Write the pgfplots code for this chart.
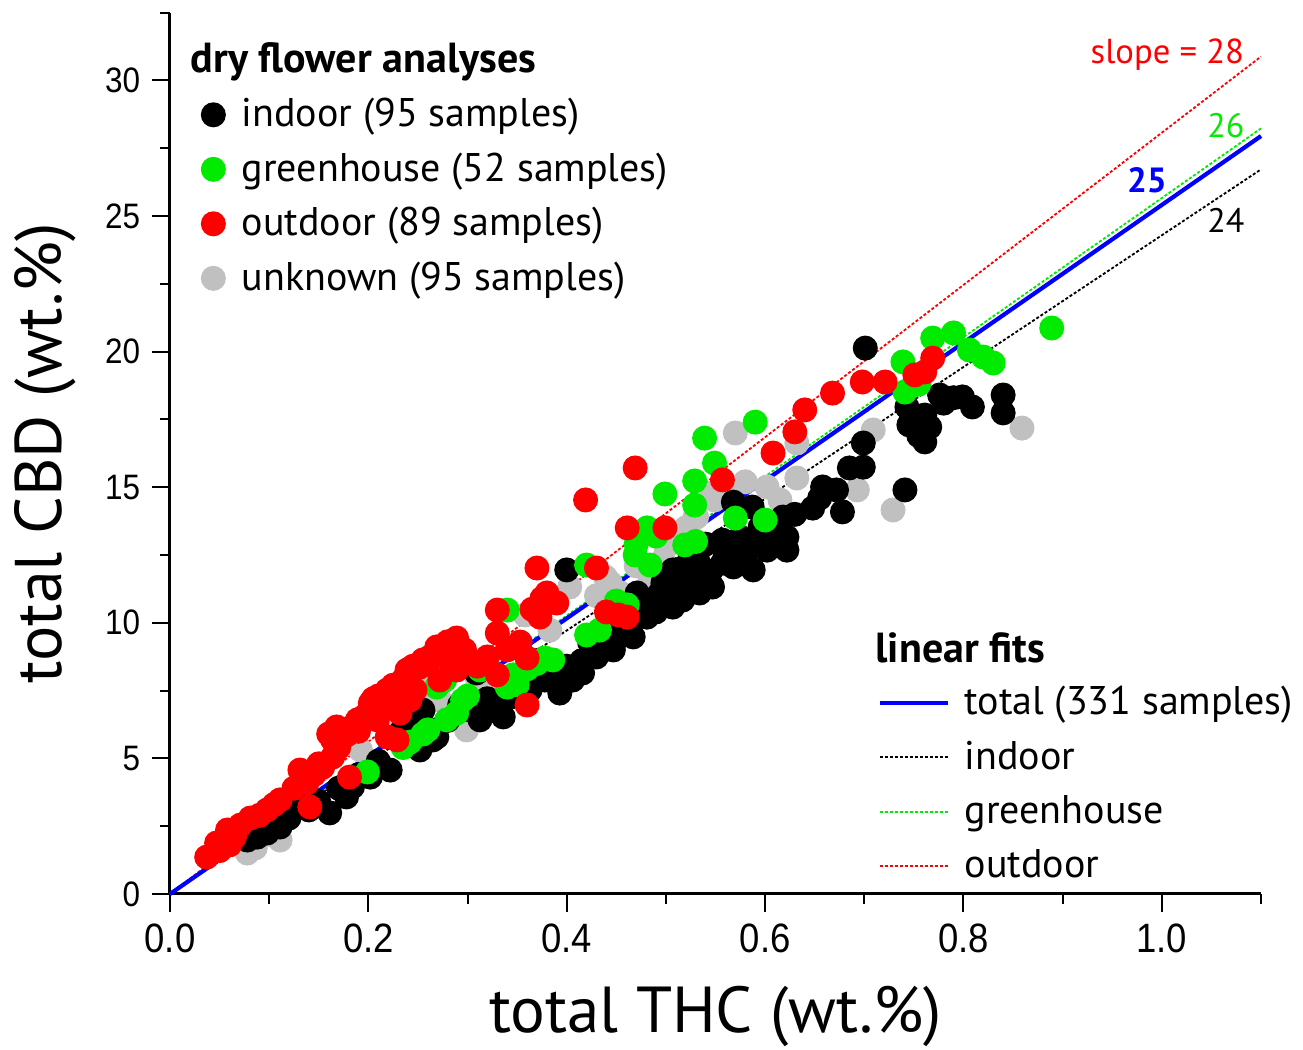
\documentclass[border=0pt]{standalone}
\usepackage{fontspec}
\setmainfont{PT Sans}
\newfontfamily\tickfont[FakeStretch=0.89]{Liberation Sans}
\usepackage{pgfplots}
\pgfplotsset{compat=1.18}
\definecolor{cgreen}{RGB}{0,235,0}
\definecolor{cgray}{RGB}{192,192,192}

\begin{document}
\begin{tikzpicture}
\begin{axis}[
    name=main,
    width=327.3pt, height=264.4pt, scale only axis,
    xmin=0, xmax=1.1, ymin=0, ymax=32.5,
    axis x line=bottom, axis y line=left,
    axis line style={-, line width=0.9pt},
    tick align=outside,
    tick style={line width=0.6pt, black},
    major tick length=5.4pt, minor tick length=3pt,
    xtick={0,0.2,0.4,0.6,0.8,1.0},
    minor xtick={0.1,0.3,0.5,0.7,0.9,1.1},
    ytick={0,5,10,15,20,25,30},
    minor ytick={2.5,7.5,12.5,17.5,22.5,27.5,32.5},
    /pgf/number format/assume math mode=true,
    xticklabel style={font=\tickfont\fontsize{12.3}{13}\selectfont,
        /pgf/number format/.cd, fixed, fixed zerofill, precision=1},
    yticklabel style={font=\tickfont\fontsize{10.6}{12}\selectfont},
    xlabel={total THC (wt.\%)},
    ylabel={total CBD (wt.\%)},
    xlabel style={at={(rel axis cs:0.5,-0.1566)}, anchor=base, font=\fontsize{19.5}{20}\selectfont},
    ylabel style={at={(rel axis cs:-0.099,0.5)}, anchor=base, font=\fontsize{19.8}{20}\selectfont},
    legend style={at={(rel axis cs:0.0289,0.915)}, anchor=north west,
        draw=none, fill=none, inner sep=0pt, outer sep=0pt,
        column sep=5.0pt, row sep=0pt,
        font=\fontsize{12}{13}\selectfont,
        nodes={inner sep=0pt, minimum height=16.35pt}},
    legend cell align=left,
    clip=false,
]
% fit lines behind the points
\addplot[black, line width=0.55pt, dash pattern=on 0.9pt off 0.6pt, forget plot] coordinates {(0,0) (1.1,26.72)};
\addplot[cgreen, line width=0.55pt, dash pattern=on 0.9pt off 0.6pt, forget plot] coordinates {(0,0) (1.1,28.23)};
\addplot[red, line width=0.55pt, dash pattern=on 0.9pt off 0.6pt, forget plot] coordinates {(0,0) (1.1,30.88)};

% unknown
\addplot[only marks, mark=*, color=cgray, mark size=3.55pt, forget plot] coordinates {
(0.859,17.18) (0.729,14.16) (0.709,17.11) (0.570,17.00) (0.632,16.63) (0.632,15.34)
(0.602,15.01) (0.549,14.53) (0.529,13.86) (0.497,12.32) (0.693,14.90) (0.547,14.79)
(0.531,13.90) (0.439,11.69) (0.403,11.32) (0.444,11.47) (0.454,11.10) (0.262,7.63)
(0.249,7.26) (0.299,6.05) (0.225,6.53) (0.078,1.51) (0.111,1.99) (0.229,6.31)
(0.333,7.52) (0.383,9.73) (0.358,10.29) (0.272,7.15) (0.192,5.31) (0.151,4.57)
(0.086,1.70) (0.484,11.58) (0.509,13.05) (0.615,14.53)
(0.500,12.80) (0.470,12.10) (0.520,13.50) (0.560,14.90) (0.580,15.20) (0.430,11.00)
(0.270,7.40) (0.310,7.90) (0.100,2.20)
};
% indoor
\addplot[only marks, mark=*, color=black, mark size=3.55pt, forget plot] coordinates {
(0.701,20.13) (0.743,17.96) (0.761,17.66) (0.766,17.22) (0.761,16.67) (0.776,18.40)
(0.799,18.33) (0.809,17.96) (0.840,18.40) (0.840,17.74) (0.741,14.90) (0.699,16.63)
(0.699,15.74) (0.685,15.71) (0.658,15.01) (0.672,14.90) (0.648,14.23) (0.678,14.09)
(0.618,13.90) (0.622,13.16) (0.622,12.68) (0.608,13.16) (0.595,13.53) (0.587,14.27)
(0.568,14.45) (0.557,13.05) (0.575,13.16) (0.582,12.68) (0.568,12.06) (0.557,12.20)
(0.531,12.57) (0.517,12.02) (0.507,11.95) (0.497,11.47) (0.532,12.32) (0.547,11.32)
(0.534,11.10) (0.517,10.84) (0.494,11.10) (0.481,10.84) (0.507,10.58) (0.588,11.95)
(0.602,12.68) (0.481,10.21) (0.471,11.10) (0.467,9.48) (0.447,9.00) (0.430,8.74)
(0.416,8.15) (0.406,7.89) (0.393,7.63) (0.393,7.41) (0.400,11.95) (0.309,8.15)
(0.330,6.90) (0.336,6.53) (0.343,7.26) (0.363,7.52) (0.378,7.89) (0.255,6.78)
(0.265,5.68) (0.232,5.94) (0.249,6.16) (0.269,5.79) (0.252,5.31) (0.222,4.57)
(0.202,4.31) (0.184,3.95) (0.178,3.58) (0.161,2.99) (0.124,3.58) (0.111,2.47)
(0.088,2.10) (0.078,1.99) (0.098,2.25) (0.292,6.97) (0.3125,6.42) (0.444,9.66)
(0.423,9.29) (0.454,10.10) (0.373,8.63) (0.358,8.08) (0.534,11.76) (0.489,10.84)
(0.460,9.90) (0.490,10.40) (0.500,11.20) (0.520,11.40) (0.545,11.90) (0.560,12.50)
(0.575,12.40) (0.590,12.90) (0.600,13.30) (0.612,13.60) (0.540,12.90) (0.450,9.40)
(0.430,9.00) (0.415,8.60) (0.400,8.40) (0.380,8.20) (0.350,7.80) (0.320,7.20)
(0.300,6.80) (0.280,6.40) (0.240,5.50) (0.210,4.90) (0.190,4.40) (0.170,3.90)
(0.150,3.40) (0.140,3.10) (0.120,2.80) (0.100,2.60) (0.655,14.60) (0.630,14.00)
(0.745,17.30) (0.755,16.90) (0.780,18.10) (0.790,18.30)
};
% greenhouse
\addplot[only marks, mark=*, color=cgreen, mark size=3.55pt, forget plot] coordinates {
(0.889,20.87) (0.769,20.50) (0.790,20.69) (0.806,20.06) (0.820,19.80) (0.830,19.58)
(0.739,19.62) (0.741,18.51) (0.590,17.40) (0.539,16.81) (0.549,15.89) (0.529,15.23)
(0.499,14.75) (0.529,14.34) (0.481,13.50) (0.469,12.50) (0.519,12.87) (0.570,13.86)
(0.600,13.79) (0.420,12.13) (0.461,10.66) (0.340,10.47) (0.420,9.55) (0.386,8.63)
(0.378,8.70) (0.346,8.08) (0.350,7.71) (0.340,7.63) (0.295,7.15) (0.289,6.67)
(0.279,6.42) (0.260,6.05) (0.242,5.60) (0.269,7.63) (0.199,4.50) (0.484,12.13)
(0.3125,8.26) (0.277,7.89) (0.433,9.73)
(0.255,5.90) (0.235,5.40) (0.300,7.30) (0.370,8.50) (0.360,8.30) (0.450,10.80)
(0.470,12.90) (0.490,13.20) (0.530,13.00) (0.755,18.80)
};
% outdoor
\addplot[only marks, mark=*, color=red, mark size=3.55pt, forget plot] coordinates {
(0.769,19.76) (0.751,19.14) (0.761,19.25) (0.721,18.88) (0.698,18.88) (0.668,18.47)
(0.640,17.85) (0.630,17.04) (0.608,16.26) (0.557,15.27) (0.469,15.71) (0.419,14.53)
(0.461,13.50) (0.499,13.50) (0.430,12.02) (0.370,12.02) (0.330,10.47) (0.380,11.10)
(0.390,10.73) (0.373,10.21) (0.452,10.29) (0.461,10.21) (0.330,9.62) (0.353,9.29)
(0.360,8.70) (0.320,8.74) (0.330,8.08) (0.360,6.97) (0.289,9.44) (0.270,9.00)
(0.262,8.74) (0.282,8.63) (0.252,8.37) (0.242,8.08) (0.272,7.89) (0.289,8.26)
(0.222,7.41) (0.222,6.90) (0.232,6.67) (0.229,5.68) (0.219,5.79) (0.239,8.26)
(0.255,8.63) (0.269,9.11) (0.219,7.52) (0.202,7.04) (0.189,6.42) (0.168,6.16)
(0.164,5.68) (0.164,5.05) (0.154,4.68) (0.131,4.57) (0.138,4.09) (0.181,4.31)
(0.111,3.47) (0.098,3.10) (0.081,2.80) (0.058,2.36) (0.047,1.88) (0.037,1.36)
(0.141,3.21) (0.215,6.90) (0.195,6.53) (0.209,6.42) (0.178,5.86) (0.242,7.15)
(0.060,1.81) (0.071,2.54) (0.297,9.00) (0.247,7.52)
(0.160,5.90) (0.175,6.00) (0.185,6.20) (0.200,6.70) (0.205,7.20) (0.210,7.30)
(0.225,7.70) (0.235,7.90) (0.245,8.40) (0.260,8.50) (0.275,8.90) (0.280,9.30)
(0.125,3.90) (0.145,4.40) (0.150,4.80) (0.170,5.40) (0.090,2.90) (0.105,3.30)
(0.065,2.10) (0.050,1.60) (0.190,6.00) (0.340,9.00) (0.310,8.40) (0.375,10.90)
(0.365,10.50) (0.440,10.40)
};
% total fit on top
\addplot[blue, line width=1.25pt, forget plot] coordinates {(0,0) (1.1,27.95)};

\addlegendimage{only marks, mark=*, color=black, mark size=3.55pt}
\addlegendentry{indoor (95 samples)}
\addlegendimage{only marks, mark=*, color=cgreen, mark size=3.55pt}
\addlegendentry{greenhouse (52 samples)}
\addlegendimage{only marks, mark=*, color=red, mark size=3.55pt}
\addlegendentry{outdoor (89 samples)}
\addlegendimage{only marks, mark=*, color=cgray, mark size=3.55pt}
\addlegendentry{unknown (95 samples)}

\node[anchor=base west, inner sep=0pt, font=\bfseries\fontsize{12.6}{13}\selectfont] at (axis cs:0.0202,30.31) {dry flower analyses};
\node[anchor=base west, inner sep=0pt, font=\bfseries\fontsize{12.6}{13}\selectfont] at (axis cs:0.7107,8.52) {linear fits};
\node[anchor=base east, inner sep=0pt, red, font=\fontsize{10.4}{11}\selectfont] at (axis cs:1.0837,30.64) {slope = 28};
\node[anchor=base, inner sep=0pt, cgreen, font=\fontsize{10.2}{11}\selectfont] at (axis cs:1.0645,27.91) {26};
\node[anchor=base, inner sep=0pt, blue, font=\bfseries\fontsize{10.5}{11}\selectfont] at (axis cs:0.985,25.85) {25};
\node[anchor=base, inner sep=0pt, black, font=\fontsize{10.2}{11}\selectfont] at (axis cs:1.0645,24.41) {24};
\end{axis}

\begin{axis}[
    width=327.3pt, height=264.4pt, scale only axis,
    xmin=0, xmax=1.1, ymin=0, ymax=32.5,
    hide axis,
    legend image code/.code={\draw[#1] (0pt,0pt) -- (20.4pt,0pt);},
    legend style={at={(rel axis cs:0.649,0.2475)}, anchor=north west,
        draw=none, fill=none, inner sep=0pt, outer sep=0pt,
        column sep=4.3pt, row sep=0pt,
        font=\fontsize{12}{13}\selectfont,
        nodes={inner sep=0pt, minimum height=16.3pt}},
    legend cell align=left,
]
\addlegendimage{blue, line width=1.25pt}
\addlegendentry{total (331 samples)}
\addlegendimage{black, line width=0.55pt, dash pattern=on 0.9pt off 0.6pt}
\addlegendentry{indoor}
\addlegendimage{cgreen, line width=0.55pt, dash pattern=on 0.9pt off 0.6pt}
\addlegendentry{greenhouse}
\addlegendimage{red, line width=0.55pt, dash pattern=on 0.9pt off 0.6pt}
\addlegendentry{outdoor}
\end{axis}

\pgfresetboundingbox
\path[use as bounding box] (-51pt,-46.8pt) rectangle (339.9pt,268.2pt);
\end{tikzpicture}
\end{document}
